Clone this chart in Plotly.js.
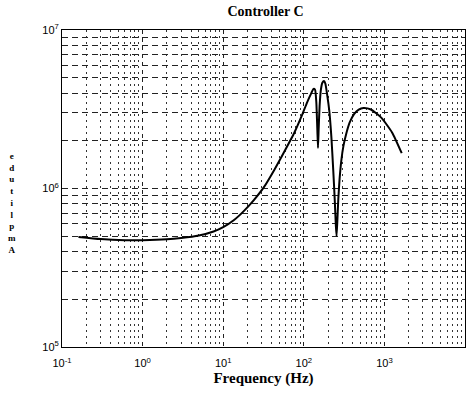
<!DOCTYPE html>
<html>
<head>
<meta charset="utf-8">
<script src="https://cdn.plot.ly/plotly-3.0.1.min.js"></script>
<style>html,body{margin:0;padding:0;background:#fff;}#chart{width:470px;height:398px;}</style>
</head>
<body>
<div id="chart"></div>
<script>
const freq = [0.16, 0.3, 0.6, 1, 2, 3, 5, 7.6, 10, 13.5, 18, 24, 32, 43, 57, 76, 95, 110, 124, 132, 138, 143, 147, 150, 153, 157, 163, 170, 178, 185, 195, 207, 220, 232, 242, 250, 255, 261, 268, 278, 292, 310, 335, 370, 420, 480, 550, 680, 920, 1250, 1640];
const amplitude = [4.95e5, 4.8e5, 4.72e5, 4.72e5, 4.78e5, 4.87e5, 5.05e5, 5.35e5, 5.7e5, 6.3e5, 7.2e5, 8.45e5, 1.02e6, 1.31e6, 1.7e6, 2.24e6, 2.9e6, 3.5e6, 4.0e6, 4.25e6, 4.2e6, 3.5e6, 2.4e6, 1.8e6, 2.4e6, 3.3e6, 4.2e6, 4.65e6, 4.77e6, 4.6e6, 3.9e6, 3.1e6, 2.1e6, 1.3e6, 8.5e5, 5.8e5, 5.0e5, 6.3e5, 8.6e5, 1.15e6, 1.5e6, 1.85e6, 2.2e6, 2.6e6, 2.95e6, 3.15e6, 3.22e6, 3.15e6, 2.79e6, 2.25e6, 1.67e6];
const xTickVals = [0.1, 1, 10, 100, 1000, 10000];
const xTickText = ['10<sup>-1</sup>', '10<sup>0</sup>', '10<sup>1</sup>', '10<sup>2</sup>', '10<sup>3</sup>', '10<sup>4</sup>'];
const yTickVals = [1e5, 1e6, 1e7];
const yTickText = ['10<sup>5</sup>', '10<sup>6</sup>', '10<sup>7</sup>'];
const yLabelLetters = ['e', 'd', 'u', 't', 'i', 'l', 'p', 'm', 'A'];

const serif = 'Liberation Serif, Times New Roman, serif';
const sans = 'Liberation Sans, Arial, sans-serif';

const xMinor = [];
[0.1, 1, 10, 100, 1000].forEach(d => { for (let k = 2; k <= 9; k++) xMinor.push(d * k); });
const yMinor = [];
[1e5, 1e6].forEach(d => { for (let k = 2; k <= 9; k++) yMinor.push(d * k); });

Plotly.newPlot('chart', [{
  x: freq, y: amplitude, type: 'scatter', mode: 'lines',
  line: {color: '#000', width: 2, shape: 'spline', smoothing: 0.5}
}], {
  width: 470, height: 398,
  margin: {l: 62, r: 5, t: 30, b: 51},
  paper_bgcolor: '#fff', plot_bgcolor: '#fff',
  showlegend: false,
  title: {text: '<b>Controller C</b>', x: 0.565, xanchor: 'center', y: 0.985, yanchor: 'top',
    font: {family: serif, size: 14, color: '#000'}},
  xaxis: {
    type: 'log', range: [-1, 4], tickvals: xTickVals, ticktext: xTickText,
    showgrid: true, gridcolor: '#222', griddash: '4px,4px', gridwidth: 1,
    minor: {tickvals: xMinor, showgrid: true, gridcolor: '#333', griddash: '2px,4px', gridwidth: 1, ticks: ''},
    ticks: '', ticklabelstandoff: 6, showline: true, mirror: true, linecolor: '#000', linewidth: 1,
    zeroline: false,
    tickfont: {family: sans, size: 11, color: '#000'},
    title: {text: '<b>Frequency (Hz)</b>', font: {family: serif, size: 15, color: '#000'}, standoff: 4}
  },
  yaxis: {
    type: 'log', range: [5, 7], tickvals: yTickVals, ticktext: yTickText,
    showgrid: true, gridcolor: '#222', griddash: '6px,4px', gridwidth: 1,
    minor: {tickvals: yMinor, showgrid: true, gridcolor: '#222', griddash: '6px,4px', gridwidth: 1, ticks: ''},
    ticks: '', showline: true, mirror: true, linecolor: '#000', linewidth: 1,
    zeroline: false,
    tickfont: {family: sans, size: 11, color: '#000'}
  },
  annotations: [{
    text: '<b>' + yLabelLetters.join('<br>') + '</b>', xref: 'paper', yref: 'paper',
    x: -0.125, y: 0.455, xanchor: 'center', yanchor: 'middle',
    showarrow: false, font: {family: serif, size: 9, color: '#000'}
  }]
}, {displayModeBar: false, staticPlot: true});
</script>
</body>
</html>
